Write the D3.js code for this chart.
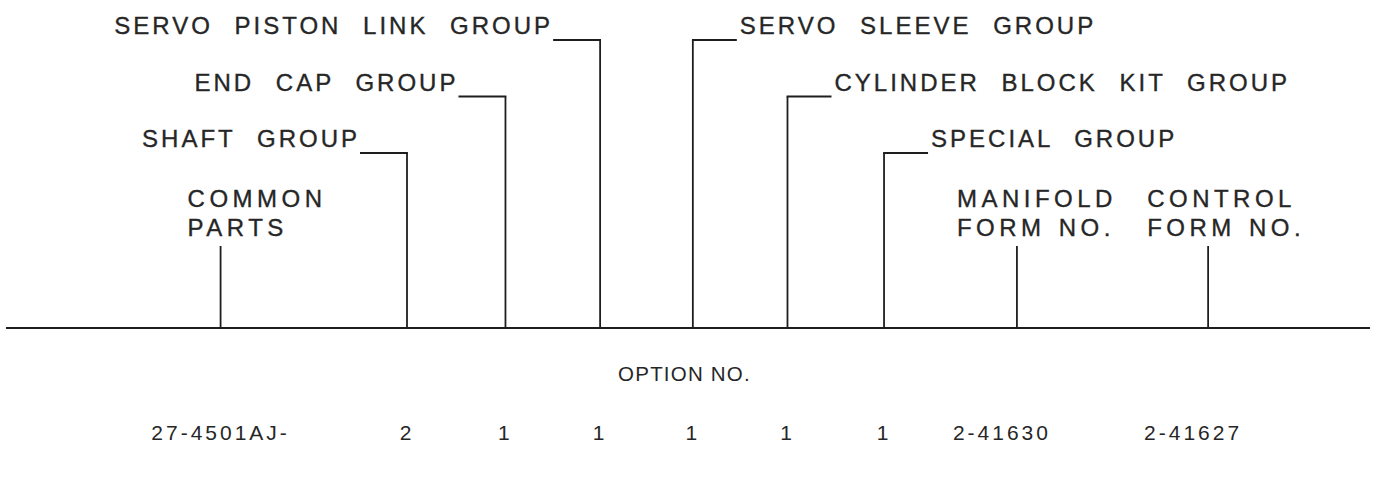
<!DOCTYPE html>
<html lang="en">
<head>
<meta charset="utf-8">
<title>Model code breakdown</title>
<script src="https://d3js.org/d3.v7.min.js"></script>
<style>
  body { margin: 0; background: #fff; }
  text { font-family: "Liberation Sans", Arial, Helvetica, sans-serif; fill: #262626; }
</style>
</head>
<body>
<script>
// label for each code position, left to right ("\n" splits a two-line label)
var labels = ["COMMON\nPARTS", "SHAFT GROUP", "END CAP GROUP", "SERVO PISTON LINK GROUP",
              "SERVO SLEEVE GROUP", "CYLINDER BLOCK KIT GROUP", "SPECIAL GROUP",
              "MANIFOLD\nFORM NO.", "CONTROL\nFORM NO."];
// column of each position along the base line (group columns are 1..6)
var columns = [-0.95, 1, 2.03, 3.02, 3.99, 4.98, 5.99, 7.38, 9.38];
// how high the leader goes: 0 = top row ... 3 = short tick under a two-line label
var levels = [3, 2, 1, 0, 0, 1, 2, 3, 3];
// which side the label hangs on
var sides = ["below", "left", "left", "left", "right", "right", "right", "below", "below"];
// the option number read along the code
var optionTitle = "OPTION NO.";
var optionValues = ["27-4501AJ-", "2", "1", "1", "1", "1", "1", "2-41630", "2-41627"];

var w = 1375, h = 499;
var baseY = 328;

var svg = d3.select("body").append("svg")
  .attr("width", w)
  .attr("height", h);

//column -> pixel
var x = d3.scaleLinear().domain([1, 6]).range([407, 885]);
//row of the leader top
var y = d3.scaleLinear().domain([0, 2]).range([40, 153]);
var tickTop = 246;

function topOf(i) {
  return levels[i] === 3 ? tickTop : y(levels[i]);
}

//base line
svg.append("line")
  .attr("x1", 6).attr("x2", 1370)
  .attr("y1", baseY).attr("y2", baseY)
  .attr("stroke", "#1e1e1e")
  .attr("stroke-width", 2);

var items = labels.map(function(l, i) { return { i: i, label: l }; });

var g = svg.selectAll("g.part")
  .data(items)
  .enter()
  .append("g")
  .attr("class", "part");

//vertical leaders
g.append("line")
  .attr("x1", function(d) { return x(columns[d.i]); })
  .attr("x2", function(d) { return x(columns[d.i]); })
  .attr("y1", function(d) { return topOf(d.i); })
  .attr("y2", baseY)
  .attr("stroke", "#1e1e1e")
  .attr("stroke-width", 1.8);

var stub = 47;

//horizontal stubs for the side labels
g.filter(function(d) { return sides[d.i] !== "below"; })
  .append("line")
  .attr("x1", function(d) {
    var cx = x(columns[d.i]);
    return sides[d.i] === "left" ? cx + 0.9 : cx - 0.9;
  })
  .attr("x2", function(d) {
    var cx = x(columns[d.i]);
    return sides[d.i] === "left" ? cx - stub : cx + stub - 3;
  })
  .attr("y1", function(d) { return topOf(d.i); })
  .attr("y2", function(d) { return topOf(d.i); })
  .attr("stroke", "#1e1e1e")
  .attr("stroke-width", 1.8);

//side labels
g.filter(function(d) { return sides[d.i] !== "below"; })
  .append("text")
  .attr("x", function(d) {
    var cx = x(columns[d.i]);
    return sides[d.i] === "left" ? cx - stub : cx + stub;
  })
  .attr("y", function(d) { return topOf(d.i) - 6; })
  .attr("text-anchor", function(d) { return sides[d.i] === "left" ? "end" : "start"; })
  .style("font-size", "24px")
  .style("letter-spacing", "3px")
  .style("word-spacing", "12px")
  .style("stroke", "#262626")
  .style("stroke-width", "0.35px")
  .text(function(d) { return d.label; });

//two-line labels above the short ticks
var labelShift = { 0: -33, 7: -60, 8: -61 };
g.filter(function(d) { return sides[d.i] === "below"; })
  .append("text")
  .attr("y", 207)
  .style("font-size", "24px")
  .style("letter-spacing", "4.5px")
  .style("word-spacing", "2px")
  .style("stroke", "#262626")
  .style("stroke-width", "0.35px")
  .each(function(d) {
    var t = d3.select(this);
    var x0 = x(columns[d.i]) + labelShift[d.i];
    d.label.split("\n").forEach(function(line, k) {
      t.append("tspan")
        .attr("x", x0)
        .attr("y", 207 + k * 29)
        .text(line);
    });
  });

//option number row
svg.append("text")
  .attr("x", x(3.02) + 18)
  .attr("y", 381)
  .style("font-size", "20.5px")
  .style("letter-spacing", "1.2px")
  .text(optionTitle);

var valueShift = { 7: -15, 8: -15 };
svg.selectAll("text.value")
  .data(optionValues)
  .enter()
  .append("text")
  .attr("class", "value")
  .attr("x", function(d, i) { return x(columns[i]) + (valueShift[i] || 0); })
  .attr("y", 440)
  .attr("text-anchor", "middle")
  .style("font-size", "21px")
  .style("letter-spacing", "3px")
  .text(function(d) { return d; });
</script>
</body>
</html>
